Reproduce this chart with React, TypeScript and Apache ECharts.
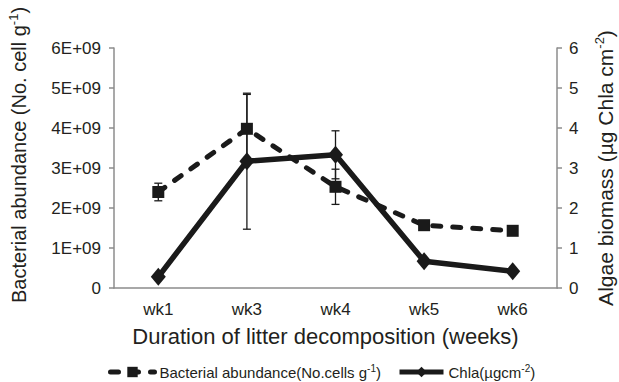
import React, { useEffect, useRef } from "react";
import * as echarts from "echarts";

const categories = ["wk1", "wk3", "wk4", "wk5", "wk6"];
const bacteria = [2.4e9, 3.98e9, 2.53e9, 1.57e9, 1.43e9];
const bacteriaErr = [0.22e9, 0.86e9, 0.44e9, 0.06e9, 0.03e9];
const chla = [0.28, 3.17, 3.33, 0.67, 0.42];
const chlaErr = [0.03, 1.7, 0.6, 0.04, 0.04];
const leftTicks = [0, 1e9, 2e9, 3e9, 4e9, 5e9, 6e9];

const SER_A = "Bacterial abundance(No.cells g-1)";
const SER_B = "Chla(µgcm-2)";
const TEXT = "#231f20";
const LINE = "#1a1a1a";
const AXIS = "#8c8c8c";
const FONT = "Liberation Sans, Arial, sans-serif";

function errorSeries(vals: number[], errs: number[], yAxisIndex: number, name: string) {
  return {
    type: "custom",
    name,
    yAxisIndex,
    z: 1,
    silent: true,
    data: vals.map((v, i) => [i, v - errs[i], v + errs[i]]),
    renderItem: (params: any, api: any) => {
      const x = api.value(0);
      const pLo = api.coord([x, api.value(1)]);
      const pHi = api.coord([x, api.value(2)]);
      const w = 4;
      const style = { stroke: LINE, lineWidth: 1.3 };
      return {
        type: "group",
        children: [
          { type: "line", shape: { x1: pLo[0], y1: pLo[1], x2: pHi[0], y2: pHi[1] }, style },
          { type: "line", shape: { x1: pLo[0] - w, y1: pLo[1], x2: pLo[0] + w, y2: pLo[1] }, style },
          { type: "line", shape: { x1: pHi[0] - w, y1: pHi[1], x2: pHi[0] + w, y2: pHi[1] }, style },
        ],
      };
    },
  };
}

export default function App() {
  const ref = useRef<HTMLDivElement>(null);
  useEffect(() => {
    document.body.style.margin = "0";
    const chart = echarts.init(ref.current!, undefined, { renderer: "svg" });
    const richFor = (size: number, sup: number, lh: number) => ({
      a: { fontSize: size, color: TEXT, fontFamily: FONT, lineHeight: lh },
      s: { fontSize: sup, color: TEXT, fontFamily: FONT, verticalAlign: "top", lineHeight: lh },
    });
    chart.setOption({
      animation: false,
      textStyle: { fontFamily: FONT, color: TEXT },
      grid: { left: 114, right: 62, top: 48, bottom: 94, containLabel: false, outerBoundsMode: "none" },
      legend: {
        data: [SER_A, SER_B],
        top: 363,
        left: 108,
        padding: 0,
        itemWidth: 44,
        itemHeight: 13,
        itemGap: 16,
        lineStyle: { width: 5 },
        textStyle: {
          color: TEXT,
          fontSize: 15,
          fontFamily: FONT,
          rich: richFor(15, 10, 18),
        },
        formatter: (n: string) =>
          n === SER_A
            ? "{a|Bacterial abundance(No.cells g}{s|-1}{a|)}"
            : "{a|Chla(µgcm}{s|-2}{a|)}",
      },
      xAxis: {
        type: "category",
        data: categories,
        boundaryGap: true,
        axisLine: { lineStyle: { color: AXIS, width: 1.5 } },
        axisTick: { show: false },
        axisLabel: { color: TEXT, fontSize: 17, margin: 13, fontFamily: FONT },
        name: "Duration of litter decomposition (weeks)",
        nameLocation: "middle",
        nameGap: 37,
        nameTextStyle: {
          color: TEXT,
          fontSize: 22,
          fontFamily: FONT,
          verticalAlign: "top",
          padding: [0, 20, 0, 0],
        },
      },
      yAxis: [
        {
          type: "value",
          min: 0,
          max: 6e9,
          interval: 1e9,
          splitLine: { show: false },
          axisLine: { show: true, lineStyle: { color: AXIS, width: 1.5 } },
          axisTick: { show: true, length: 5, lineStyle: { color: AXIS, width: 1.5 } },
          axisLabel: {
            color: TEXT,
            fontSize: 17,
            margin: 13,
            fontFamily: FONT,
            customValues: leftTicks,
            formatter: (v: number) => (v === 0 ? "0" : `${Math.round(v / 1e9)}E+09`),
          },
          name: "{a|Bacterial abundance (No. cell g}{s|-1}{a|)}",
          nameLocation: "middle",
          nameRotate: 90,
          nameGap: 83,
          nameTextStyle: { rich: richFor(20, 13, 24), padding: [0, 0, 0, 26] },
        },
        {
          type: "value",
          min: 0,
          max: 6,
          interval: 1,
          position: "right",
          splitLine: { show: false },
          axisLine: { show: true, lineStyle: { color: AXIS, width: 1.5 } },
          axisTick: { show: true, length: 5, lineStyle: { color: AXIS, width: 1.5 } },
          axisLabel: { color: TEXT, fontSize: 17, margin: 12, fontFamily: FONT },
          name: "{a|Algae biomass (µg Chla cm}{s|-2}{a|)}",
          nameLocation: "middle",
          nameRotate: 90,
          nameGap: 36,
          nameTextStyle: { rich: richFor(21, 13, 25) },
        },
      ],
      series: [
        errorSeries(bacteria, bacteriaErr, 0, "errA"),
        errorSeries(chla, chlaErr, 1, "errB"),
        {
          name: SER_A,
          type: "line",
          yAxisIndex: 0,
          data: bacteria,
          symbol: "rect",
          symbolSize: 12,
          z: 3,
          lineStyle: { color: LINE, width: 5, type: [8, 12], cap: "round" },
          itemStyle: { color: LINE },
        },
        {
          name: SER_B,
          type: "line",
          yAxisIndex: 1,
          data: chla,
          symbol: "diamond",
          symbolSize: [15, 18],
          z: 4,
          lineStyle: { color: LINE, width: 5.5 },
          itemStyle: { color: LINE },
        },
      ],
    });
    return () => chart.dispose();
  }, []);
  return (
    <div
      ref={ref}
      style={{ position: "fixed", left: 0, top: 0, width: 619, height: 382, background: "#fff" }}
    />
  );
}
